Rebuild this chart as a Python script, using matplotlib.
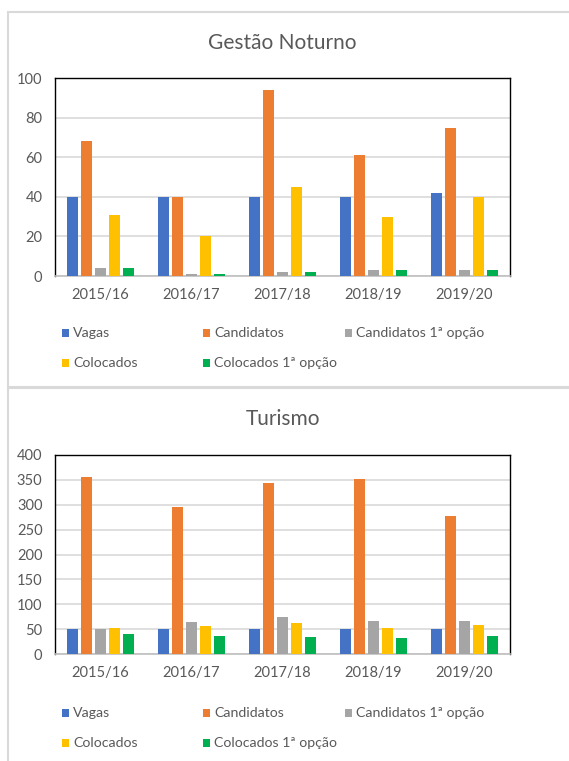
import matplotlib
matplotlib.use("Agg")
import matplotlib.pyplot as plt
from matplotlib.patches import Rectangle
import numpy as np

plt.rcParams['font.family'] = ['Lato', 'DejaVu Sans']

categories = ["2015/16", "2016/17", "2017/18", "2018/19", "2019/20"]
series_names = ["Vagas", "Candidatos", "Candidatos 1ª opção", "Colocados", "Colocados 1ª opção"]
colors = ["#4472C4", "#ED7D31", "#A5A5A5", "#FFC000", "#00B050"]

gestao_vagas = [40, 40, 40, 40, 42]
gestao_candidatos = [68, 40, 94, 61, 75]
gestao_cand1 = [4, 1, 2, 3, 3]
gestao_colocados = [31, 20, 45, 30, 40]
gestao_col1 = [4, 1, 2, 3, 3]

turismo_vagas = [50, 50, 50, 50, 50]
turismo_candidatos = [355, 295, 344, 352, 277]
turismo_cand1 = [50, 65, 74, 67, 67]
turismo_colocados = [53, 57, 62, 53, 58]
turismo_col1 = [41, 37, 35, 32, 37]

panels = [
    ("Gestão Noturno", [gestao_vagas, gestao_candidatos, gestao_cand1, gestao_colocados, gestao_col1], 100, 20),
    ("Turismo", [turismo_vagas, turismo_candidatos, turismo_cand1, turismo_colocados, turismo_col1], 400, 50),
]

W, H = 569, 761
fig = plt.figure(figsize=(W / 100, H / 100), dpi=100)

text_color = "#595959"

# panel layout in pixels: (panel_top, panel_bottom, axes_top, axes_bottom, title_y, legend_row1, legend_row2)
layouts = [
    (12, 387, 78, 276, 43, 333, 363),
    (388, 770, 455, 654, 419, 713, 743),
]

ax_left, ax_right = 55, 510
pitch = 14 / 91
bw = 11.5 / 91

for (title, data, ymax, ystep), (ptop, pbot, atop, abot, ty, l1, l2) in zip(panels, layouts):
    # panel border
    fig.patches.append(Rectangle((8 / W, 1 - pbot / H), (W + 10 - 8) / W, (pbot - ptop) / H,
                                 transform=fig.transFigure, fill=False, edgecolor="#d9d9d9",
                                 linewidth=1.5, zorder=0))
    ax = fig.add_axes([ax_left / W, 1 - abot / H, (ax_right - ax_left) / W, (abot - atop) / H])
    x = np.arange(len(categories))
    for i, (vals, c) in enumerate(zip(data, colors)):
        ax.bar(x + (i - 2) * pitch, vals, width=bw, color=c, linewidth=0, zorder=3)
    ax.set_xlim(-0.5, len(categories) - 0.5)
    ax.set_ylim(0, ymax)
    ax.set_yticks(np.arange(0, ymax + 1, ystep))
    ax.set_xticks(x)
    ax.set_xticklabels(categories)
    ax.tick_params(axis='both', length=0, labelsize=10.5, colors=text_color)
    ax.tick_params(axis='y', pad=9)
    ax.tick_params(axis='x', pad=9)
    ax.grid(axis='y', color="#d9d9d9", linewidth=1.2, zorder=0)
    for s in ["top", "right", "left"]:
        ax.spines[s].set_color("black")
        ax.spines[s].set_linewidth(1.0)
    ax.spines["bottom"].set_color("#bfbfbf")
    ax.spines["bottom"].set_linewidth(1.2)
    fig.text((ax_left + ax_right) / 2 / W, 1 - ty / H, title, ha='center', va='center',
             fontsize=15, color=text_color)
    # legend
    positions = [(62, l1), (203, l1), (345, l1), (62, l2), (203, l2)]
    for name, c, (lx, ly) in zip(series_names, colors, positions):
        fig.patches.append(Rectangle((lx / W, 1 - (ly + 4) / H), 7 / W, 8 / H,
                                     transform=fig.transFigure, facecolor=c, edgecolor='none'))
        fig.text((lx + 11) / W, 1 - ly / H, name, ha='left', va='center', fontsize=10.2,
                 color=text_color)

fig.savefig("out.png", dpi=100)
